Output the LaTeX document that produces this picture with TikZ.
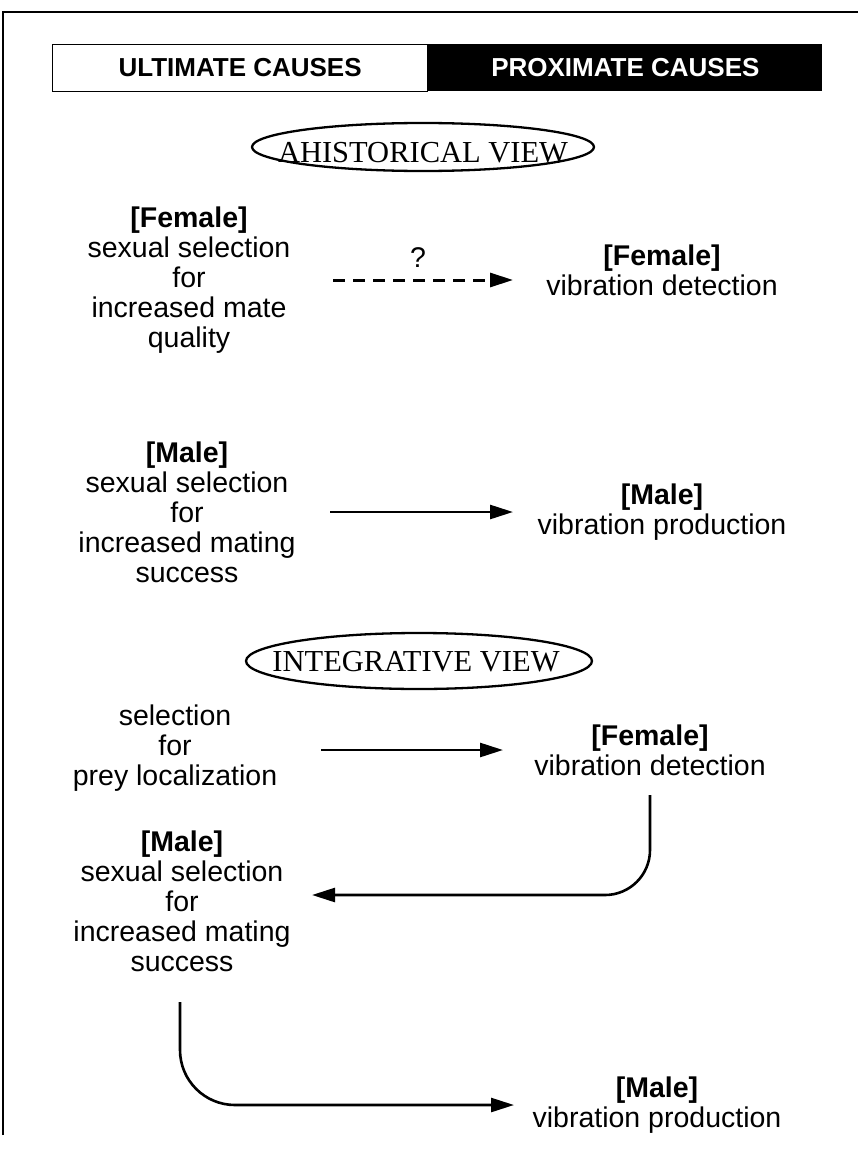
\documentclass[tikz,border=0pt]{standalone}
\usepackage{fontspec}
\setmainfont{Liberation Sans}
\newfontfamily\viewfont{Liberation Serif}
\usetikzlibrary{arrows.meta,calc,positioning}

\tikzset{
  body/.style={align=center, font=\fontsize{28.5}{30}\selectfont, inner sep=0pt},
  head/.style={font=\fontsize{26}{28}\selectfont\bfseries, minimum height=47pt, inner sep=0pt},
  view/.style={font=\fontsize{30.5}{30}\selectfont\viewfont, inner sep=0pt},
  link/.style={line width=2.6pt, -{Triangle[length=23pt,width=14pt]}},
  ring/.style={line width=2.3pt},
}

\begin{document}
\begin{tikzpicture}[x=1pt,y=-1pt]
    \useasboundingbox (0,0) rectangle (858,1153);
    % Frame
    \draw[line width=1.5pt] (3,1135) -- (3,12) -- (858,12);

    % Header bar
    \node[head, draw, line width=1.2pt, minimum width=375pt, anchor=west] (ult) at (52,68) {ULTIMATE CAUSES};
    \node[head, fill=black, text=white, minimum width=394pt, anchor=west] (prox) at (ult.east) {PROXIMATE CAUSES};

    % Ahistorical view
    \node[view] (ahist) at (423,153) {AHISTORICAL VIEW};
    \draw[ring] ($(ahist.center)+(0,-6)$) ellipse [x radius=171pt, y radius=24pt];

    \node[body] (sel1) at (189,280) {\textbf{[Female]}\\sexual selection\\for\\increased mate\\quality};
    \node[body] (det1) at (662,270) {\textbf{[Female]}\\vibration detection};
    \node[body] (ask) at (418,258) {?};
    \draw[link, line width=3pt, dash pattern=on 12pt off 8pt] ($(sel1.center)+(144,0)$) -- ($(det1.center)+(-149,10)$);

    \node[body] (sel2) at (187,512) {\textbf{[Male]}\\sexual selection\\for\\increased mating\\success};
    \node[body] (prod2) at (662,512) {\textbf{[Male]}\\vibration production};
    \draw[link] ($(sel2.center)+(143,0)$) -- ($(prod2.center)+(-149,0)$);

    % Integrative view
    \node[view] (integ) at (416,662) {INTEGRATIVE VIEW};
    \draw[ring] ($(integ.center)+(3,-1)$) ellipse [x radius=173pt, y radius=28pt];

    \node[body] (prey) at (175,748) {selection\\for\\prey localization};
    \node[body] (det3) at (650,750) {\textbf{[Female]}\\vibration detection};
    \draw[link] ($(prey.center)+(146,2)$) -- ($(det3.center)+(-147,0)$);

    \node[body] (sel3) at (182,901) {\textbf{[Male]}\\sexual selection\\for\\increased mating\\success};
    \draw[link, rounded corners=45pt] ($(det3.center)+(0,45)$) |- ($(sel3.center)+(130,-6)$);

    \node[body] (prod4) at (657,1105) {\textbf{[Male]}\\vibration production};
    \draw[link, rounded corners=55pt] ($(sel3.center)+(-2,101)$) |- ($(prod4.center)+(-143,0)$);
\end{tikzpicture}
\end{document}
